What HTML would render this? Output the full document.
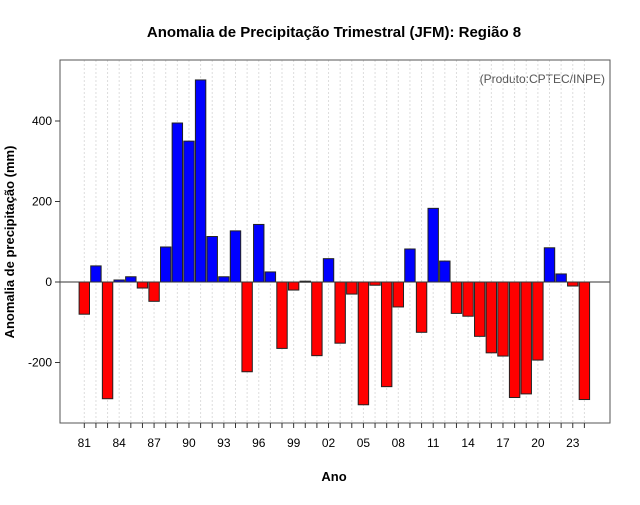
<!DOCTYPE html>
<html><head><meta charset="utf-8"><style>
body{margin:0;background:#fff;}
svg text{font-family:"Liberation Sans",Arial,sans-serif;}
</style></head><body>
<svg id="c" width="640" height="500" xmlns="http://www.w3.org/2000/svg">
<text x="334" y="37" text-anchor="middle" font-size="15" font-weight="bold">Anomalia de Precipitação Trimestral (JFM): Região 8</text>
<text x="605" y="83" text-anchor="end" font-size="12" fill="#555">(Produto:CPTEC/INPE)</text>
<text x="334" y="481" text-anchor="middle" font-size="13" font-weight="bold">Ano</text>
<text transform="translate(14,242) rotate(-90)" text-anchor="middle" font-size="13" font-weight="bold">Anomalia de precipitação (mm)</text>
<g id="grid"></g><g id="bars"></g><g id="axes"></g>
</svg>
<script>
const years=[1981,1982,1983,1984,1985,1986,1987,1988,1989,1990,1991,1992,1993,1994,1995,1996,1997,1998,1999,2000,2001,2002,2003,2004,2005,2006,2007,2008,2009,2010,2011,2012,2013,2014,2015,2016,2017,2018,2019,2020,2021,2022,2023,2024];
const values=[-80,40,-290,5,13,-15,-48,87,395,350,502,113,13,127,-223,143,25,-165,-20,2,-183,58,-152,-30,-305,-8,-260,-62,82,-125,183,52,-78,-85,-135,-176,-184,-287,-278,-194,85,20,-10,-292];
const yTicks=[-200,0,200,400];
const NS="http://www.w3.org/2000/svg";
const L=60,R=610,T=60,B=423;
const STEP=11.63;
const x=y=>84.3+(y-1981)*STEP;
const yS=v=>282-v*0.4025;
function mk(tag,attrs,parent){const e=document.createElementNS(NS,tag);for(const k in attrs)e.setAttribute(k,attrs[k]);parent.appendChild(e);return e;}
const grid=document.getElementById('grid'),bars=document.getElementById('bars'),axes=document.getElementById('axes');
years.forEach(yr=>{const g=mk('line',{x1:x(yr),x2:x(yr),y1:T,y2:B,stroke:'#ddd','stroke-dasharray':'2,2'},grid);

});
years.forEach((yr,i)=>{const v=values[i];const y0=yS(0),y1=yS(v);
const r=mk('rect',{x:x(yr)-5.2,y:Math.min(y0,y1),width:10.4,height:Math.max(1,Math.abs(y1-y0)),fill:v>=0?'#0000ff':'#ff0000',stroke:'#222','stroke-width':1},bars);

});
const z=mk('line',{x1:L,x2:R,y1:yS(0),y2:yS(0),stroke:'#333'},axes);


const box=mk('rect',{x:L,y:T,width:R-L,height:B-T,fill:'none',stroke:'#555'},axes);


yTicks.forEach(v=>{mk('line',{x1:L-5,x2:L,y1:yS(v),y2:yS(v),stroke:'#333'},axes);
const t=mk('text',{x:L-8,y:yS(v)+4,'text-anchor':'end','font-size':12},axes);t.textContent=v;

});
years.forEach(yr=>{mk('line',{x1:x(yr),x2:x(yr),y1:B,y2:B+5,stroke:'#333'},axes);
if((yr-1981)%3===0){const t=mk('text',{x:x(yr),y:B+24,'text-anchor':'middle','font-size':12},axes);t.textContent=String(yr%100).padStart(2,'0');

}});
</script>
</body></html>
